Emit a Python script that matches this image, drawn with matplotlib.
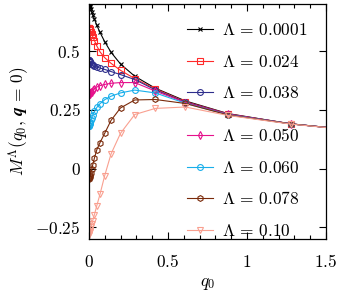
import matplotlib
matplotlib.use("Agg")
import matplotlib.pyplot as plt
from matplotlib.ticker import MultipleLocator, FixedLocator, FixedFormatter

plt.rcParams['mathtext.fontset'] = 'cm'
plt.rcParams['font.family'] = 'serif'

# frequency grid (shared by all curves)
q0 = [0.001, 0.002, 0.003, 0.004, 0.006, 0.008, 0.012, 0.017, 0.024, 0.035,
      0.05, 0.07, 0.1, 0.14, 0.2, 0.29, 0.42, 0.61, 0.88, 1.28, 1.85]

m_0001 = [0.700, 0.698, 0.696, 0.694, 0.690, 0.686, 0.678, 0.668, 0.655, 0.636,
          0.610, 0.580, 0.540, 0.495, 0.445, 0.393, 0.342, 0.288, 0.234, 0.190, 0.152]
m_024 = [0.600, 0.599, 0.598, 0.596, 0.593, 0.590, 0.583, 0.574, 0.562, 0.545,
         0.522, 0.497, 0.472, 0.448, 0.418, 0.383, 0.339, 0.285, 0.233, 0.190, 0.152]
m_038 = [0.462, 0.461, 0.460, 0.458, 0.455, 0.452, 0.447, 0.443, 0.439, 0.435,
         0.432, 0.428, 0.422, 0.413, 0.400, 0.379, 0.335, 0.283, 0.232, 0.190, 0.152]
m_050 = [0.316, 0.317, 0.318, 0.319, 0.320, 0.322, 0.325, 0.328, 0.333, 0.340,
         0.347, 0.353, 0.358, 0.363, 0.366, 0.366, 0.330, 0.281, 0.231, 0.190, 0.152]
m_060 = [0.180, 0.182, 0.185, 0.188, 0.193, 0.198, 0.206, 0.215, 0.228, 0.243,
         0.260, 0.276, 0.293, 0.308, 0.322, 0.334, 0.322, 0.278, 0.229, 0.190, 0.152]
m_078 = [-0.045, -0.042, -0.040, -0.037, -0.032, -0.027, -0.017, -0.004, 0.015, 0.045,
         0.080, 0.110, 0.150, 0.205, 0.258, 0.292, 0.294, 0.277, 0.228, 0.190, 0.152]
m_10 = [-0.285, -0.280, -0.276, -0.272, -0.265, -0.258, -0.248, -0.235, -0.222, -0.196,
        -0.158, -0.110, -0.030, 0.062, 0.150, 0.230, 0.256, 0.262, 0.226, 0.189, 0.152]

labels = ['0.0001', '0.024', '0.038', '0.050', '0.060', '0.078', '0.10']
series = [m_0001, m_024, m_038, m_050, m_060, m_078, m_10]
colors = ['#000000', '#ff2a2a', '#2e2e8c', '#e6118c', '#18aeea', '#7a2a0a', '#f9a090']
markers = ['x', 's', 'o', 'd', 'o', 'h', 'v']

fs = 12.5
fig = plt.figure(figsize=(3.38, 2.94), dpi=100)
ax = fig.add_axes([0.263, 0.187, 0.7015, 0.799])

handles = []
for lab, m, c, mk in zip(labels, series, colors, markers):
    h, = ax.plot(q0, m, color=c, lw=0.8, marker=mk, ms=4.2 if mk != 'x' else 3.5,
                 mfc='none', mec=c, mew=0.8, label=r'$\Lambda\,=\,%s$' % lab)
    handles.append(h)

ax.set_xlim(0, 1.5)
ax.set_ylim(-0.3, 0.7)
ax.xaxis.set_major_locator(FixedLocator([0, 0.5, 1, 1.5]))
ax.xaxis.set_major_formatter(FixedFormatter(['$0$', '$0.5$', '$1$', '$1.5$']))
ax.xaxis.set_minor_locator(MultipleLocator(0.1))
ax.yaxis.set_major_locator(FixedLocator([-0.25, 0, 0.25, 0.5]))
ax.yaxis.set_major_formatter(FixedFormatter(['$-0.25$', '$0$', '$0.25$', '$0.5$']))
ax.tick_params(which='both', direction='in', top=True, right=True, labelsize=fs, width=0.8)
ax.tick_params(which='major', length=5)
ax.tick_params(axis='x', which='major', pad=11)
ax.tick_params(axis='y', which='major', pad=6)
ax.tick_params(which='minor', length=3)
for s in ax.spines.values():
    s.set_linewidth(0.9)

ax.set_xlabel(r'$q_0$', fontsize=fs, labelpad=3)
ax.set_ylabel(r'$M^\Lambda(q_0,\, \boldsymbol{q}\,=\,\mathbf{0})$', fontsize=fs, labelpad=3)

common = dict(frameon=False, fontsize=fs, labelspacing=0.84, handlelength=1.5,
              handletextpad=0.5, borderaxespad=0, borderpad=0.4)
leg1 = ax.legend(handles=handles[:3], loc='center left',
                 bbox_to_anchor=(0.386, 0.753), **common)
ax.add_artist(leg1)
ax.legend(handles=handles[3:], loc='center left',
          bbox_to_anchor=(0.386, 0.234), **common)

fig.savefig('out.png', dpi=100)
